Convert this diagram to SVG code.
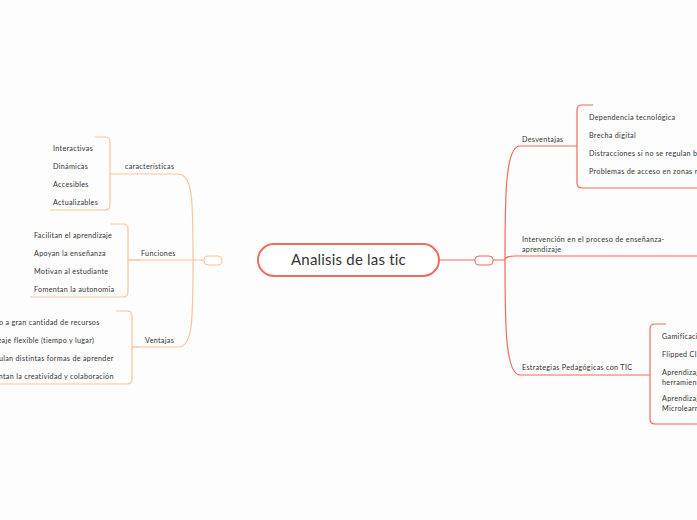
<svg xmlns="http://www.w3.org/2000/svg" width="697" height="520" viewBox="0 0 697 520">
<style>
text{font-family:"Lato","Noto Sans",sans-serif;font-size:7.2px;letter-spacing:0.3px;fill:#333}
.o{fill:none;stroke:#fbc39b;stroke-width:1.2}
.r{fill:none;stroke:#f26b5b;stroke-width:1.2}
</style>
<rect width="697" height="520" fill="#fdfdfd"/>
<g id="connectors">
<path class="o" d="M204 260H193M193 260C193 200 193 174 178 174H123M193 260H128M193 260C193 320 193 347 178 347H132"/>
<path class="o" d="M95 137H105Q110 137 110 142V205Q110 210 105 210H50M110 174H123"/>
<path class="o" d="M111 224H123Q128 224 128 229V292Q128 297 123 297H30M128 260H140"/>
<path class="o" d="M116 311H127Q132 311 132 316V379Q132 384 127 384H0M132 347H140"/>
<path class="r" d="M439 260H475M493 260H505M505 260C505 200 505 146 520 146H577M505 260C505 320 505 375 520 375H650M505 260C505 257 508 256 515 256H697"/>
<path class="r" d="M593 105H582Q577 105 577 110V183Q577 188 582 188H697"/>
<path class="r" d="M666 324H655Q650 324 650 329V419Q650 424 655 424H697"/>
</g>
<g id="center"><rect x="258" y="244" width="181" height="32" rx="16" fill="#fff" stroke="#f26b5b" stroke-width="2"/><text x="348.5" y="265" text-anchor="middle" style="font-size:15px;letter-spacing:0.2px">Analisis de las tic</text></g>
<g id="lc"><rect x="204" y="256" width="18" height="9" rx="4" fill="#fff" stroke="#fbc39b"/></g>
<g id="rc"><rect x="475" y="256" width="18" height="9" rx="4" fill="#fff" stroke="#f26b5b"/></g>
<g id="caracteristicas"><text x="125" y="169">caracteristicas</text>
<text x="53" y="151">Interactivas</text><text x="53" y="169">Dinámicas</text><text x="53" y="187">Accesibles</text><text x="53" y="205">Actualizables</text></g>
<g id="funciones"><text x="141" y="256">Funciones</text>
<text x="34" y="238">Facilitan el aprendizaje</text><text x="34" y="256">Apoyan la enseñanza</text><text x="34" y="274">Motivan al estudiante</text><text x="34" y="292">Fomentan la autonomia</text></g>
<g id="ventajas"><text x="145" y="343">Ventajas</text>
<text x="-21" y="325">Acceso a gran cantidad de recursos</text><text x="-29" y="343">Aprendizaje flexible (tiempo y lugar)</text><text x="-20" y="361">Estimulan distintas formas de aprender</text><text x="-20" y="379">Fomentan la creatividad y colaboración</text></g>
<g id="desventajas"><text x="522" y="142">Desventajas</text>
<text x="589" y="120">Dependencia tecnológica</text><text x="589" y="138">Brecha digital</text><text x="589" y="156">Distracciones si no se regulan bien</text><text x="589" y="174">Problemas de acceso en zonas rurales</text></g>
<g id="intervencion"><text x="522" y="242">Intervención en el proceso de enseñanza-</text><text x="522" y="252">aprendizaje</text></g>
<g id="estrategias"><text x="522" y="370">Estrategias Pedagógicas con TIC</text>
<text x="662" y="339">Gamificación</text><text x="662" y="357">Flipped Classroom</text><text x="662" y="375">Aprendizaje colaborativo con</text><text x="662" y="385">herramientas digitales</text><text x="662" y="401">Aprendizaje móvil y</text><text x="662" y="411">Microlearning</text></g>
</svg>
